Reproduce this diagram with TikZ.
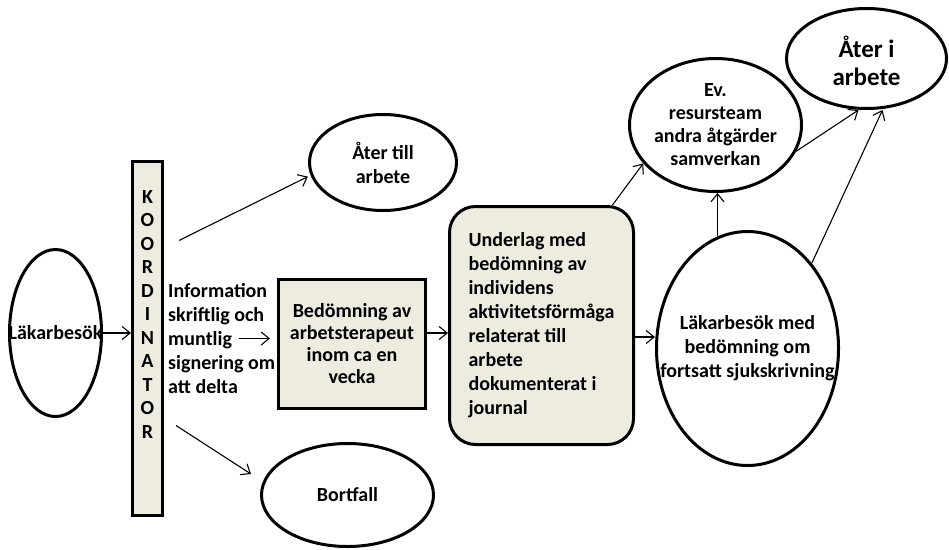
\documentclass[tikz,border=0pt]{standalone}
\usepackage{fontspec}
\setmainfont{Carlito}
\usetikzlibrary{positioning, shapes.geometric, arrows.meta}
\definecolor{paper}{RGB}{238,236,225}

\begin{document}
\begin{tikzpicture}[font=\bfseries\fontsize{20}{24}\selectfont,
	oval/.style={draw, ellipse, line width=3pt, inner sep=0pt},
	card/.style={draw, fill=paper, line width=3pt, inner sep=0pt},
	txt/.style={align=center},
	arr/.style={-{Straight Barb[length=8pt,width=13pt]}, line width=1.1pt}]
	
	\useasboundingbox (0,0) rectangle (949pt,-549pt);
	
	% left column
	\node[oval, minimum width=92pt, minimum height=167pt,
		label={center:Läkarbesök}] (lak) at (55.5pt,-333pt) {};
	\node[card, minimum width=30pt, minimum height=354pt, right=28pt of lak, yshift=-5.5pt,
		label={[txt, yshift=24pt, font=\bfseries\fontsize{20}{23.5}\selectfont]center:K\\O\\O\\R\\D\\I\\N\\A\\T\\O\\R}] (koord) {};
	\node[align=left, inner sep=0pt, right=4pt of koord] (info) {Information\\skriftlig och\\muntlig\\signering om\\att delta};
	
	% middle
	\node[card, txt, minimum width=147pt, minimum height=129pt, right=113pt of koord, yshift=-5.5pt,
		font=\bfseries\fontsize{20}{22}\selectfont] (bed) {Bedömning av\\arbetsterapeut\\inom ca en\\vecka};
	\node[oval, minimum width=147pt, minimum height=96pt, above=66pt of bed, xshift=31pt,
		label={[txt]center:Åter till\\arbete}] (till) {};
	\node[oval, minimum width=172pt, minimum height=103pt, below=32pt of bed, xshift=-4.5pt,
		label={center:Bortfall}] (bort) {};
	\node[card, rounded corners=26pt, align=left, minimum width=184pt, minimum height=238pt,
		right=21pt of bed, yshift=18.5pt] (und) {Underlag med\\bedömning av\\individens\\aktivitetsförmåga\\relaterat till\\arbete\\dokumenterat i\\journal};
	
	% right
	\node[oval, minimum width=182pt, minimum height=234pt, right=20pt of und, yshift=-23pt,
		label={[txt]center:Läkarbesök med\\bedömning om\\fortsatt sjukskrivning}] (lm) {};
	\node[oval, minimum width=172pt, minimum height=133pt, above=37pt of lm, xshift=-32pt,
		label={[txt, font=\bfseries\fontsize{20}{23}\selectfont]center:Ev.\\resursteam\\andra åtgärder\\samverkan}] (ev) {};
	\node[oval, minimum width=160pt, minimum height=100pt, above=120pt of lm, xshift=119pt,
		label={[txt, yshift=-2pt, font=\bfseries\fontsize{25}{28}\selectfont]center:Åter i\\arbete}] (ater) {};
	
	% arrows
	\draw[arr] (lak.east) -- (lak.east -| koord.west);
	\draw[arr, shorten >=3pt] ([shift={(15pt,98pt)}]koord.east) -- (till.190);
	\draw[arr] ([shift={(12pt,-87pt)}]koord.east) -- ([shift={(-9pt,21pt)}]bort.west);
	\draw[arr, shorten >=7pt] ([xshift=71pt]info.west) -- (info.west -| bed.west);
	\draw[arr] ([yshift=11pt]bed.east) -- ([yshift=11pt]bed.east -| und.west);
	\draw[arr] ([yshift=-11.5pt]und.east) -- ([yshift=-11.5pt]und.east -| lm.west);
	\draw[arr] ([xshift=71pt]und.north) -- (ev.208);
	\draw[arr] (lm.105) -- (lm.105 |- ev.south);
	\draw[arr] (ev.-18) -- ([xshift=-8pt]ater.south);
	\draw[arr] (lm.53) -- ([xshift=16pt]ater.south);
	
\end{tikzpicture}
\end{document}
